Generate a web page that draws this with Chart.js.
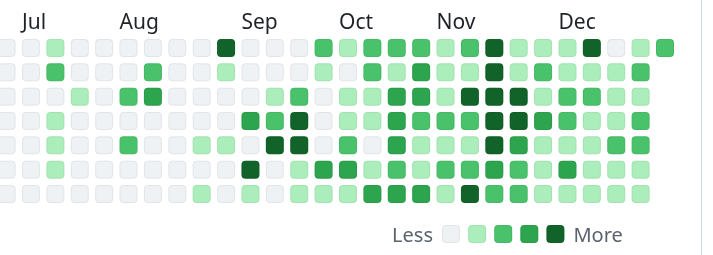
<!DOCTYPE html>
<html>
<head>
<meta charset="utf-8">
<script src="https://cdn.jsdelivr.net/npm/chart.js@4"></script>
<style>
  html, body { margin: 0; padding: 0; background: #ffffff; }
  #wrap { position: relative; width: 701px; height: 255px; border-right: 1px solid #d1d9e0; overflow: hidden; }
  canvas { display: block; }
</style>
</head>
<body>
<div id="wrap"><canvas id="calendar" width="701" height="255"></canvas></div>
<script>
// Contribution level (0-4) per week, one array per weekday; null = day not yet reached
const sun = [0,0,1,0,0,0,0,0,0,4,0,0,0,2,1,2,2,2,1,2,4,1,1,1,4,0,1,2];
const mon = [0,0,2,0,0,0,2,0,0,1,0,0,0,1,0,2,1,3,1,1,4,1,2,1,1,1,2,null];
const tue = [0,0,0,1,0,2,3,0,0,0,0,1,2,0,1,1,3,3,1,4,4,4,1,2,2,1,1,null];
const wed = [0,0,1,0,0,0,0,0,0,0,3,2,4,0,1,1,3,2,2,2,4,4,3,2,1,1,2,null];
const thu = [0,0,1,0,0,2,0,0,1,1,0,4,4,0,2,0,3,1,1,1,4,3,1,1,1,2,2,null];
const fri = [0,0,1,0,0,0,0,0,0,0,4,0,1,3,3,1,2,1,2,2,3,2,1,3,1,1,1,null];
const sat = [0,0,0,0,0,0,0,0,1,0,1,0,1,1,1,3,3,3,1,4,2,2,1,1,1,1,1,null];

// Month labels and the week column each one starts at
const monthLabels = ['Jul', 'Aug', 'Sep', 'Oct', 'Nov', 'Dec'];
const monthWeeks  = [1, 5, 10, 14, 18, 23];

const levelColors = ['#eff2f5', '#aceebb', '#4ac26b', '#2da44e', '#116329'];
const CELL = 18;
const RADIUS = 4;
const FONT = '"Noto Sans", "Open Sans", sans-serif';

const weekdays = [sun, mon, tue, wed, thu, fri, sat];
const points = [];
weekdays.forEach((row, day) => {
  row.forEach((level, week) => {
    if (level !== null) points.push({ x: week, y: day, v: level });
  });
});

function cell(ctx, x, y, level) {
  ctx.beginPath();
  ctx.roundRect(x, y, CELL, CELL, RADIUS);
  ctx.fillStyle = levelColors[level];
  ctx.fill();
  ctx.beginPath();
  ctx.roundRect(x + 0.5, y + 0.5, CELL - 1, CELL - 1, RADIUS - 0.5);
  ctx.strokeStyle = 'rgba(31,35,40,0.06)';
  ctx.lineWidth = 1;
  ctx.stroke();
}

const calendarPlugin = {
  id: 'calendarCells',
  afterDatasetsDraw(chart) {
    const ctx = chart.ctx;
    const xs = chart.scales.x;
    const meta = chart.getDatasetMeta(0);
    ctx.save();
    meta.data.forEach((el, i) => {
      const p = chart.data.datasets[0].data[i];
      cell(ctx, el.x - CELL / 2, el.y - CELL / 2, p.v);
    });

    // month names along the top
    ctx.font = '21px ' + FONT;
    ctx.fillStyle = '#1f2328';
    ctx.textAlign = 'left';
    ctx.textBaseline = 'alphabetic';
    monthLabels.forEach((m, i) => {
      ctx.fillText(m, xs.getPixelForValue(monthWeeks[i]) - CELL / 2, 29);
    });

    // Less ... More scale
    const legendY = 225;
    const startX = 442;
    const pitch = 26.1;
    levelColors.forEach((c, i) => cell(ctx, startX + i * pitch, legendY, i));
    ctx.font = '20px ' + FONT;
    ctx.fillStyle = '#59636e';
    ctx.textAlign = 'right';
    ctx.fillText('Less', startX - 9, 242);
    ctx.textAlign = 'left';
    ctx.fillText('More', startX + 4 * pitch + CELL + 9, 242);
    ctx.restore();
  }
};

new Chart(document.getElementById('calendar'), {
  type: 'scatter',
  data: {
    datasets: [{
      data: points,
      pointRadius: 0,
      pointHoverRadius: 0
    }]
  },
  options: {
    responsive: false,
    animation: false,
    devicePixelRatio: 1,
    layout: { padding: 0 },
    events: [],
    plugins: { legend: { display: false }, tooltip: { enabled: false } },
    scales: {
      x: { type: 'linear', display: false, min: -0.2707, max: 28.476 },
      y: { type: 'linear', display: false, reverse: true, min: -1.973, max: 8.508 }
    }
  },
  plugins: [calendarPlugin]
});
</script>
</body>
</html>
